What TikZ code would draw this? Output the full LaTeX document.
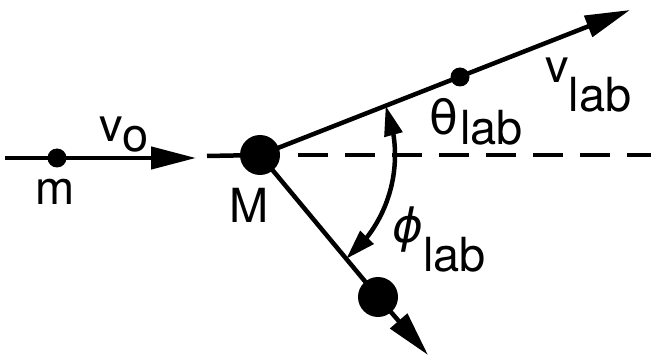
\documentclass[tikz,border=0pt]{standalone}
\usepackage{fontspec}
\setmainfont{TeX Gyre Heros}
\newfontfamily\greekfont{DejaVu Sans}
\usetikzlibrary{arrows.meta,bending}
\begin{document}
\begin{tikzpicture}[x=1pt,y=-1pt,
  line width=4.5pt,
  dot/.style={circle,fill=black,inner sep=0pt,minimum size=#1},
  lbl/.style={inner sep=0pt,anchor=base west,font=\fontsize{47}{50}\selectfont},
  bigtip/.style={-{Triangle[length=45pt,width=22pt]}},
  arctip/.style={{Triangle[length=30pt,width=18pt,flex]}-{Triangle[length=30pt,width=18pt,flex]}},
  dashline/.style={line width=4pt,dash pattern=on 30pt off 17pt}]
\useasboundingbox (0,0) rectangle (651,358);
% particles
\node[dot=19pt] (m) at (57,158) {};
\node[dot=40pt] (M) at (260,155) {};
\node[dot=19pt] (p) at (460,77) {};
\node[dot=40pt] (B) at (378,297) {};
% free ends
\coordinate (s) at (5,158);
\coordinate (a) at (196,158);
\coordinate (b) at (207,156);
\coordinate (t) at (630,10);
\coordinate (lt) at (428,355);
\coordinate (d0) at (298,155);
\coordinate (d1) at (651,155);
% lines
\draw[bigtip] (s) -- (a);
\draw (b) -- (M.center);
\draw[bigtip] (M.center) -- (t);
\draw (M.center) -- (B.center);
\draw[bigtip] (B.center) -- (lt);
\draw[dashline] (d0) -- (d1);
\draw[arctip] (M.center) ++(-21.4:135) arc[start angle=-21.4,end angle=50.3,radius=135];
% labels
\node[lbl] (vo) at (97,142) {v\lower10pt\hbox{o}};
\node[lbl,anchor=base] (ml) at (55,205) {m};
\node[lbl,anchor=base] (Ml) at (249,223) {M};
\node[lbl] (vl) at (543,83) {v\lower29pt\hbox{lab}};
\node[lbl] (tl) at (427,135) {{\greekfont θ}\kern2pt\lower10pt\hbox{lab}};
\node[lbl] (fl) at (390,243) {{\greekfont\itshape ϕ}\lower29pt\hbox{lab}};
\end{tikzpicture}
\end{document}
